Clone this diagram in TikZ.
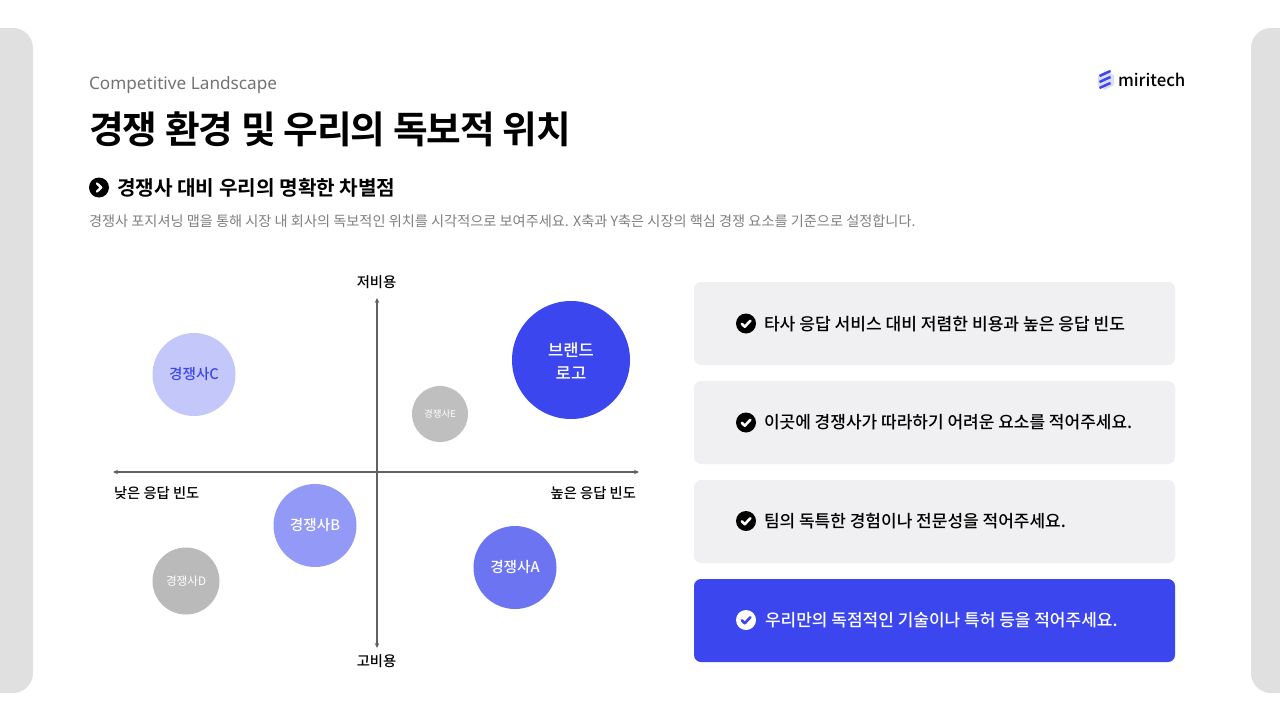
\documentclass[tikz,border=0pt]{standalone}
\usepackage{fontspec}
\setmainfont{Noto Sans CJK KR}
\newfontfamily\krmed{Noto Sans CJK KR Medium}
\newfontfamily\krbold{Noto Sans CJK KR Bold}
\newfontfamily\krtitle[LetterSpace=-2.5]{Noto Sans CJK KR Bold}
\newfontfamily\latinf{Noto Sans}
\usetikzlibrary{arrows.meta,calc}
\definecolor{blueA}{HTML}{3B46EE}
\definecolor{cardgray}{HTML}{F0EFF1}
\definecolor{sidegray}{HTML}{E0E0E0}
\tikzset{
  x=1pt,y=-1pt,
  txt/.style={inner sep=0pt,outer sep=0pt},
  card/.style={rounded corners=7pt,fill=cardgray,draw=none},
  bub/.style={circle,inner sep=0pt,draw=none,align=center,text=white},
  axis/.style={draw=black!62,line width=1.3pt,{Stealth[length=5pt,width=4.5pt]}-{Stealth[length=5pt,width=4.5pt]}},
  axl/.style={txt,font=\krmed\fontsize{14.3}{16}\selectfont,text=black},
  cardtxt/.style={txt,anchor=west,font=\krmed\fontsize{17}{20}\selectfont,text=black},
  chk/.style={circle,fill=black,minimum size=20pt,inner sep=0pt},
}
\newcommand{\tick}[2]{\draw[#2,line width=2.6pt,line cap=round,line join=round] ($(#1)+(-4.2,0.3)$) -- ($(#1)+(-1.2,3.2)$) -- ($(#1)+(4.4,-2.8)$);}
\begin{document}
\begin{tikzpicture}
\useasboundingbox (0,0) rectangle (1280,720);
\fill[white] (0,0) rectangle (1280,720);
% side panels
\fill[sidegray,rounded corners=20pt] (-40,28) rectangle (33,693);
\fill[sidegray,rounded corners=20pt] (1251,28) rectangle (1320,693);
% header
\node[txt,anchor=west,text=black!55,font=\latinf\fontsize{17.2}{20}\selectfont] (eyebrow) at (89,85.5) {Competitive Landscape};
\node[txt,anchor=west,font=\krtitle\fontsize{37.7}{46}\selectfont] (title) at (89,129) {경쟁 환경 및 우리의 독보적 위치};
\node[circle,fill=black,minimum size=20pt,inner sep=0pt] (hicon) at (99,187.5) {};
\draw[white,line width=2.4pt,line cap=round,line join=round] ($(hicon)+(-2,-4)$) -- ($(hicon)+(2.2,0)$) -- ($(hicon)+(-2,4)$);
\node[txt,anchor=west,font=\krbold\fontsize{20.2}{24}\selectfont] (sub) at (117,187.5) {경쟁사 대비 우리의 명확한 차별점};
\node[txt,anchor=west,text=black!50,font=\fontsize{14.2}{17}\selectfont] (desc) at (89,221) {경쟁사 포지셔닝 맵을 통해 시장 내 회사의 독보적인 위치를 시각적으로 보여주세요. X축과 Y축은 시장의 핵심 경쟁 요소를 기준으로 설정합니다.};
% logo
\fill[blueA!18] (1105,71) -- (1114,75) -- (1114,85) -- (1105,90) -- (1098,85) -- (1098,76) -- cycle;
\foreach \y in {76,82,88}{
  \draw[blueA,line width=2.5pt] (1099.5,\y) -- (1110.5,\y-5);
}
\node[txt,anchor=west,font=\krmed\fontsize{16.8}{22}\selectfont] (logo) at (1118,80) {miritech};
% axes
\coordinate (axT) at (377,298);
\coordinate (axB) at (377,648);
\coordinate (axL) at (113,472);
\coordinate (axR) at (639,472);
\draw[axis] (axT) -- (axB);
\draw[axis] (axL) -- (axR);
\node[axl] (lt) at (376.5,282) {저비용};
\node[axl] (lb) at (376.5,661.5) {고비용};
\node[axl,anchor=west] (ll) at (114,493) {낮은 응답 빈도};
\node[axl,anchor=east] (lr) at (636,493) {높은 응답 빈도};
% bubbles
\node[bub,fill=blueA,minimum size=118pt] (brand) at (571,360) {};
\node[txt,align=center,text=white,font=\krmed\fontsize{16.6}{23}\selectfont] (brandt) at (571,361) {브랜드\\로고};
\node[bub,fill=blueA!30,minimum size=83pt,text=blueA,font=\krmed\fontsize{14.6}{16}\selectfont] (c) at (194,374.5) {경쟁사C};
\node[bub,fill=black!25,minimum size=56pt,font=\fontsize{9.5}{11}\selectfont] (e) at (440,414) {경쟁사E};
\node[bub,fill=blueA!55,minimum size=83pt,font=\krmed\fontsize{14.6}{16}\selectfont] (b) at (315,525.5) {경쟁사B};
\node[bub,fill=black!27,minimum size=67pt,font=\fontsize{11.6}{13}\selectfont] (d) at (186,581) {경쟁사D};
\node[bub,fill=blueA!75,minimum size=83pt,font=\krmed\fontsize{14.6}{16}\selectfont] (a) at (515,567.5) {경쟁사A};
% cards
\fill[card] (694,282) rectangle (1175,365);
\fill[card] (694,381) rectangle (1175,464);
\fill[card] (694,480) rectangle (1175,563);
\fill[card,fill=blueA] (694,579) rectangle (1175,662);
\node[chk] (c1) at (746,323.5) {};
\node[chk] (c2) at (746,422.5) {};
\node[chk] (c3) at (746,521) {};
\node[chk,fill=white] (c4) at (746,620) {};
\tick{c1}{white}
\tick{c2}{white}
\tick{c3}{white}
\tick{c4}{blueA}
\node[cardtxt,font=\krmed\fontsize{17.1}{20}\selectfont] (t1) at (764,324) {타사 응답 서비스 대비 저렴한 비용과 높은 응답 빈도};
\node[cardtxt] (t2) at (764,422.5) {이곳에 경쟁사가 따라하기 어려운 요소를 적어주세요.};
\node[cardtxt] (t3) at (764,521) {팀의 독특한 경험이나 전문성을 적어주세요.};
\node[cardtxt,text=white] (t4) at (765,620.5) {우리만의 독점적인 기술이나 특허 등을 적어주세요.};
\end{tikzpicture}
\end{document}
